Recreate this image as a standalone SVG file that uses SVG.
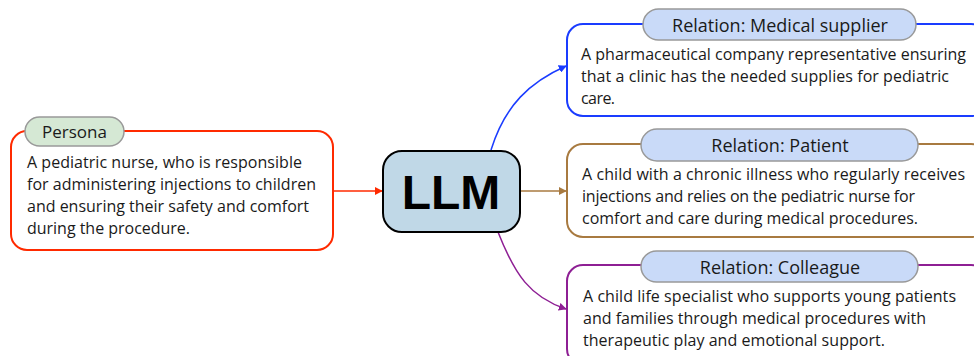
<svg xmlns="http://www.w3.org/2000/svg" width="974" height="356" viewBox="0 0 974 356">
<defs>
<style>
.body{font-family:"Open Sans","Noto Sans",sans-serif;font-size:16px;fill:#1a1a1a}
.pilltxt{font-family:"Open Sans","Noto Sans",sans-serif;font-size:18px;fill:#1a1a1a;text-anchor:middle}
.pill{fill:#c9daf8;stroke:#999999;stroke-width:1.5}
.conn{fill:none;stroke-width:1.5}
</style>
<marker id="ar-red" viewBox="0 0 10 10" refX="9" refY="5" markerWidth="8" markerHeight="8" orient="auto" markerUnits="userSpaceOnUse"><path d="M0,0 L10,5 L0,10 z" fill="#ff2a00"/></marker>
<marker id="ar-blue" viewBox="0 0 10 10" refX="9" refY="5" markerWidth="8" markerHeight="8" orient="auto" markerUnits="userSpaceOnUse"><path d="M0,0 L10,5 L0,10 z" fill="#1a3cff"/></marker>
<marker id="ar-brown" viewBox="0 0 10 10" refX="9" refY="5" markerWidth="8" markerHeight="8" orient="auto" markerUnits="userSpaceOnUse"><path d="M0,0 L10,5 L0,10 z" fill="#a87a40"/></marker>
<marker id="ar-purple" viewBox="0 0 10 10" refX="9" refY="5" markerWidth="8" markerHeight="8" orient="auto" markerUnits="userSpaceOnUse"><path d="M0,0 L10,5 L0,10 z" fill="#8e1f94"/></marker>
</defs>
<rect width="974" height="356" fill="#ffffff"/>
<g id="connectors">
<path class="conn" d="M333 191 L382 191" stroke="#ff2a00" marker-end="url(#ar-red)"/>
<path class="conn" d="M520 191 L566 191" stroke="#a87a40" marker-end="url(#ar-brown)"/>
<path class="conn" d="M491 150 C505 105 530 82 566 66" stroke="#1a3cff" marker-end="url(#ar-blue)"/>
<path class="conn" d="M498 232 C515 275 530 297 566 309" stroke="#8e1f94" marker-end="url(#ar-purple)"/>
</g>
<g id="persona">
<rect x="11" y="131" width="322" height="119" rx="16" fill="#ffffff" stroke="#ff2a00" stroke-width="2"/>
<rect x="25" y="117" width="99" height="29" rx="14.5" fill="#d5e8d4" stroke="#999999" stroke-width="1.5"/>
<text x="74.5" y="137.5" class="pilltxt" style="font-size:17px">Persona</text>
<text class="body"><tspan x="27" y="168" textLength="275">A pediatric nurse, who is responsible</tspan><tspan x="27" y="190" textLength="289">for administering injections to children</tspan><tspan x="27" y="212" textLength="282">and ensuring their safety and comfort</tspan><tspan x="27" y="234" textLength="163">during the procedure.</tspan></text>
</g>
<g id="llm">
<rect x="383" y="151" width="137" height="81" rx="19" fill="#c0d8e7" stroke="#000000" stroke-width="2"/>
<text x="451" y="209" text-anchor="middle" font-family="Liberation Sans, Arial, sans-serif" font-weight="bold" font-size="48" fill="#000000">LLM</text>
</g>
<g id="supplier">
<rect x="567" y="24" width="420" height="92" rx="16" fill="#ffffff" stroke="#1a3cff" stroke-width="2"/>
<rect x="643" y="9" width="273" height="31" rx="15.5" class="pill"/>
<text x="780" y="31.5" class="pilltxt">Relation: Medical supplier</text>
<text class="body"><tspan x="581" y="60" textLength="385">A pharmaceutical company representative ensuring</tspan><tspan x="581" y="82" textLength="368">that a clinic has the needed supplies for pediatric</tspan><tspan x="581" y="104" textLength="34">care.</tspan></text>
</g>
<g id="patient">
<rect x="567" y="144" width="420" height="93" rx="16" fill="#ffffff" stroke="#a87a40" stroke-width="2"/>
<rect x="641" y="129" width="277" height="32" rx="16" class="pill"/>
<text x="780" y="152" class="pilltxt">Relation: Patient</text>
<text class="body"><tspan x="582" y="180" textLength="383">A child with a chronic illness who regularly receives</tspan><tspan x="582" y="202" textLength="333">injections and relies on the pediatric nurse for</tspan><tspan x="582" y="224" textLength="336">comfort and care during medical procedures.</tspan></text>
</g>
<g id="colleague">
<rect x="567" y="265" width="420" height="100" rx="16" fill="#ffffff" stroke="#8e1f94" stroke-width="2"/>
<rect x="641" y="251" width="277" height="31" rx="15.5" class="pill"/>
<text x="780" y="273.5" class="pilltxt">Relation: Colleague</text>
<text class="body"><tspan x="583" y="302" textLength="373">A child life specialist who supports young patients</tspan><tspan x="583" y="324" textLength="343">and families through medical procedures with</tspan><tspan x="583" y="346" textLength="302">therapeutic play and emotional support.</tspan></text>
</g>
</svg>
